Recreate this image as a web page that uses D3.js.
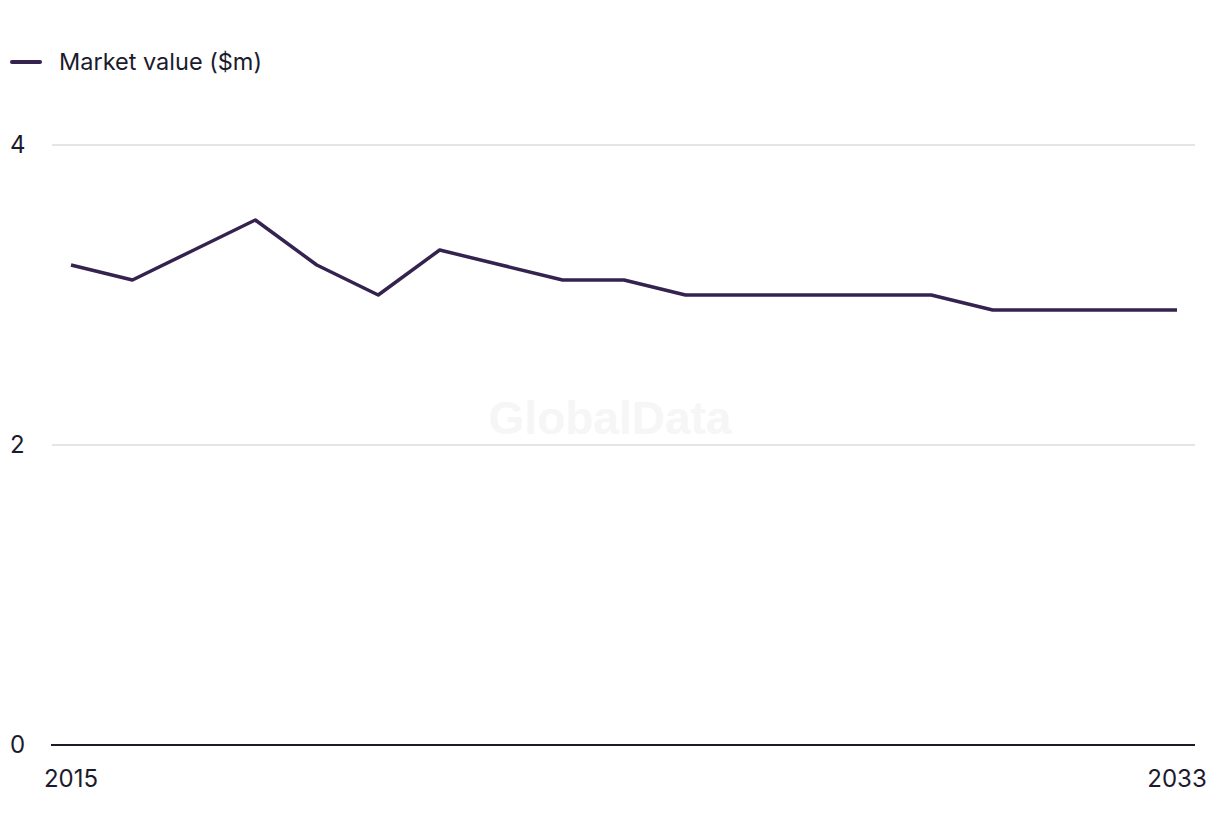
<!DOCTYPE html>
<html><head><meta charset="utf-8">
<script src="https://cdn.jsdelivr.net/npm/d3@7"></script>
<style>body{margin:0;background:#fff;}svg{display:block;font-family:"Inter","Liberation Sans",sans-serif;}</style>
</head><body>
<svg id="c" width="1220" height="836"></svg>
<script>
const years = [2015,2016,2017,2018,2019,2020,2021,2022,2023,2024,2025,2026,2027,2028,2029,2030,2031,2032,2033];
const marketValue = [3.2,3.1,3.3,3.5,3.2,3.0,3.3,3.2,3.1,3.1,3.0,3.0,3.0,3.0,3.0,2.9,2.9,2.9,2.9];
const yTicks = [0,2,4];
const xTickLabels = [2015,2033];
const seriesName = "Market value ($m)";

const svg = d3.select("#c");
const lineColor = "#35234f", textColor = "#1c1b2e";
const x = d3.scaleLinear().domain([2015,2033]).range([71,1177]);
const y = d3.scaleLinear().domain([0,4]).range([745,145]);

svg.append("text").attr("x",610).attr("y",434).attr("text-anchor","middle")
  .attr("font-size",46).attr("font-weight",700).attr("fill","#f6f6f6")
  .attr("font-family","Liberation Sans, Arial, sans-serif").text("GlobalData");

// gridlines
svg.append("g").selectAll("line").data(yTicks.filter(d=>d>0)).join("line")
  .attr("x1",52).attr("x2",1195).attr("y1",d=>y(d)).attr("y2",d=>y(d))
  .attr("stroke","#dcdcdc").attr("stroke-width",1.5);
svg.append("g").selectAll("text").data(yTicks).join("text")
  .attr("x",10).attr("y",d=>y(d)+8).attr("font-size",24).attr("fill",textColor).text(d=>d);

// baseline
svg.append("line").attr("x1",51).attr("x2",1195).attr("y1",y(0)).attr("y2",y(0))
  .attr("stroke",textColor).attr("stroke-width",2);

svg.append("g").selectAll("text").data(xTickLabels).join("text")
  .attr("x",d=>x(d)).attr("y",787).attr("text-anchor","middle")
  .attr("font-size",24).attr("fill",textColor).text(d=>d);

const line = d3.line().x((d,i)=>x(years[i])).y(d=>y(d));
svg.append("path").datum(marketValue).attr("d",line).attr("fill","none")
  .attr("stroke",lineColor).attr("stroke-width",3.5).attr("stroke-linejoin","round");

// legend
svg.append("line").attr("x1",12).attr("x2",40).attr("y1",62).attr("y2",62)
  .attr("stroke",lineColor).attr("stroke-width",4).attr("stroke-linecap","round");
svg.append("text").attr("x",59).attr("y",69.5).attr("font-size",23.5).attr("fill",textColor).text(seriesName);
</script>
</body></html>
